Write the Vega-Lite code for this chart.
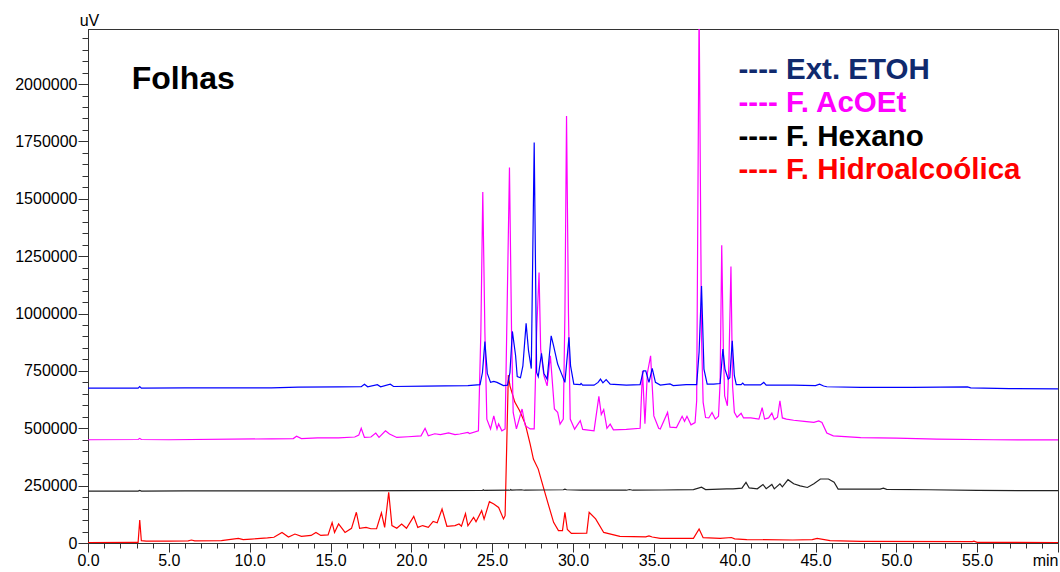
{
  "$schema": "https://vega.github.io/schema/vega-lite/v6.json",
  "width": 970,
  "height": 514,
  "autosize": "none",
  "padding": {"left": 88, "top": 29, "right": 2, "bottom": 29},
  "background": "white",
  "config": {"view": {"stroke": "#333333", "strokeWidth": 1}, "font": "Liberation Sans"},
  "resolve": {"axis": {"x": "independent", "y": "independent"}},
  "datasets": {
    "traces": [
      {"series": "F. Hidroalcoólica", "t": 0, "v": 2000},
      {"series": "F. Hidroalcoólica", "t": 2.8, "v": 3000},
      {"series": "F. Hidroalcoólica", "t": 3.1, "v": 3000},
      {"series": "F. Hidroalcoólica", "t": 3.2, "v": 100000},
      {"series": "F. Hidroalcoólica", "t": 3.3, "v": 10000},
      {"series": "F. Hidroalcoólica", "t": 3.6, "v": 8000},
      {"series": "F. Hidroalcoólica", "t": 4.95, "v": 8000},
      {"series": "F. Hidroalcoólica", "t": 6.2, "v": 9000},
      {"series": "F. Hidroalcoólica", "t": 6.4, "v": 13000},
      {"series": "F. Hidroalcoólica", "t": 6.6, "v": 9000},
      {"series": "F. Hidroalcoólica", "t": 8.25, "v": 10000},
      {"series": "F. Hidroalcoólica", "t": 9.3, "v": 20000},
      {"series": "F. Hidroalcoólica", "t": 9.6, "v": 15000},
      {"series": "F. Hidroalcoólica", "t": 10.1, "v": 17000},
      {"series": "F. Hidroalcoólica", "t": 11.1, "v": 22000},
      {"series": "F. Hidroalcoólica", "t": 11.5, "v": 25000},
      {"series": "F. Hidroalcoólica", "t": 12.0, "v": 46000},
      {"series": "F. Hidroalcoólica", "t": 12.4, "v": 26000},
      {"series": "F. Hidroalcoólica", "t": 12.8, "v": 39000},
      {"series": "F. Hidroalcoólica", "t": 13.2, "v": 29000},
      {"series": "F. Hidroalcoólica", "t": 13.8, "v": 33000},
      {"series": "F. Hidroalcoólica", "t": 14.1, "v": 46000},
      {"series": "F. Hidroalcoólica", "t": 14.4, "v": 33000},
      {"series": "F. Hidroalcoólica", "t": 14.85, "v": 35000},
      {"series": "F. Hidroalcoólica", "t": 15.1, "v": 89000},
      {"series": "F. Hidroalcoólica", "t": 15.25, "v": 46000},
      {"series": "F. Hidroalcoólica", "t": 15.5, "v": 83000},
      {"series": "F. Hidroalcoólica", "t": 15.9, "v": 46000},
      {"series": "F. Hidroalcoólica", "t": 16.3, "v": 64000},
      {"series": "F. Hidroalcoólica", "t": 16.6, "v": 134000},
      {"series": "F. Hidroalcoólica", "t": 16.8, "v": 64000},
      {"series": "F. Hidroalcoólica", "t": 17.2, "v": 68000},
      {"series": "F. Hidroalcoólica", "t": 17.5, "v": 62000},
      {"series": "F. Hidroalcoólica", "t": 17.85, "v": 62000},
      {"series": "F. Hidroalcoólica", "t": 18.15, "v": 131000},
      {"series": "F. Hidroalcoólica", "t": 18.35, "v": 68000},
      {"series": "F. Hidroalcoólica", "t": 18.6, "v": 221000},
      {"series": "F. Hidroalcoólica", "t": 18.8, "v": 76000},
      {"series": "F. Hidroalcoólica", "t": 19.1, "v": 64000},
      {"series": "F. Hidroalcoólica", "t": 19.4, "v": 83000},
      {"series": "F. Hidroalcoólica", "t": 19.7, "v": 64000},
      {"series": "F. Hidroalcoólica", "t": 20.15, "v": 116000},
      {"series": "F. Hidroalcoólica", "t": 20.4, "v": 68000},
      {"series": "F. Hidroalcoólica", "t": 20.7, "v": 76000},
      {"series": "F. Hidroalcoólica", "t": 21.05, "v": 68000},
      {"series": "F. Hidroalcoólica", "t": 21.35, "v": 94000},
      {"series": "F. Hidroalcoólica", "t": 21.6, "v": 88000},
      {"series": "F. Hidroalcoólica", "t": 21.9, "v": 148000},
      {"series": "F. Hidroalcoólica", "t": 22.2, "v": 73000},
      {"series": "F. Hidroalcoólica", "t": 22.7, "v": 76000},
      {"series": "F. Hidroalcoólica", "t": 22.95, "v": 83000},
      {"series": "F. Hidroalcoólica", "t": 23.1, "v": 73000},
      {"series": "F. Hidroalcoólica", "t": 23.35, "v": 128000},
      {"series": "F. Hidroalcoólica", "t": 23.5, "v": 75000},
      {"series": "F. Hidroalcoólica", "t": 23.85, "v": 112000},
      {"series": "F. Hidroalcoólica", "t": 24.0, "v": 93000},
      {"series": "F. Hidroalcoólica", "t": 24.35, "v": 141000},
      {"series": "F. Hidroalcoólica", "t": 24.5, "v": 104000},
      {"series": "F. Hidroalcoólica", "t": 24.83, "v": 180000},
      {"series": "F. Hidroalcoólica", "t": 25.1, "v": 170000},
      {"series": "F. Hidroalcoólica", "t": 25.4, "v": 155000},
      {"series": "F. Hidroalcoólica", "t": 25.7, "v": 105000},
      {"series": "F. Hidroalcoólica", "t": 25.8, "v": 119000},
      {"series": "F. Hidroalcoólica", "t": 25.9, "v": 424000},
      {"series": "F. Hidroalcoólica", "t": 26.0, "v": 732000},
      {"series": "F. Hidroalcoólica", "t": 26.1, "v": 685000},
      {"series": "F. Hidroalcoólica", "t": 26.4, "v": 614000},
      {"series": "F. Hidroalcoólica", "t": 26.7, "v": 576000},
      {"series": "F. Hidroalcoólica", "t": 27.05, "v": 518000},
      {"series": "F. Hidroalcoólica", "t": 27.35, "v": 431000},
      {"series": "F. Hidroalcoólica", "t": 27.55, "v": 366000},
      {"series": "F. Hidroalcoólica", "t": 27.85, "v": 322000},
      {"series": "F. Hidroalcoólica", "t": 28.2, "v": 235000},
      {"series": "F. Hidroalcoólica", "t": 28.5, "v": 162000},
      {"series": "F. Hidroalcoólica", "t": 28.8, "v": 90000},
      {"series": "F. Hidroalcoólica", "t": 29.1, "v": 54000},
      {"series": "F. Hidroalcoólica", "t": 29.35, "v": 54000},
      {"series": "F. Hidroalcoólica", "t": 29.5, "v": 134000},
      {"series": "F. Hidroalcoólica", "t": 29.65, "v": 59000},
      {"series": "F. Hidroalcoólica", "t": 29.9, "v": 42000},
      {"series": "F. Hidroalcoólica", "t": 30.85, "v": 43000},
      {"series": "F. Hidroalcoólica", "t": 31.0, "v": 134000},
      {"series": "F. Hidroalcoólica", "t": 31.4, "v": 105000},
      {"series": "F. Hidroalcoólica", "t": 31.9, "v": 46000},
      {"series": "F. Hidroalcoólica", "t": 32.9, "v": 29000},
      {"series": "F. Hidroalcoólica", "t": 34.5, "v": 27000},
      {"series": "F. Hidroalcoólica", "t": 34.7, "v": 31000},
      {"series": "F. Hidroalcoólica", "t": 34.9, "v": 26000},
      {"series": "F. Hidroalcoólica", "t": 35.4, "v": 20000},
      {"series": "F. Hidroalcoólica", "t": 37.45, "v": 20000},
      {"series": "F. Hidroalcoólica", "t": 37.8, "v": 61000},
      {"series": "F. Hidroalcoólica", "t": 38.05, "v": 23000},
      {"series": "F. Hidroalcoólica", "t": 39.1, "v": 20000},
      {"series": "F. Hidroalcoólica", "t": 39.8, "v": 24000},
      {"series": "F. Hidroalcoólica", "t": 40.0, "v": 18000},
      {"series": "F. Hidroalcoólica", "t": 40.75, "v": 15000},
      {"series": "F. Hidroalcoólica", "t": 43.6, "v": 13000},
      {"series": "F. Hidroalcoólica", "t": 44.8, "v": 15000},
      {"series": "F. Hidroalcoólica", "t": 45.1, "v": 20000},
      {"series": "F. Hidroalcoólica", "t": 45.9, "v": 10000},
      {"series": "F. Hidroalcoólica", "t": 47.8, "v": 7000},
      {"series": "F. Hidroalcoólica", "t": 54.7, "v": 6000},
      {"series": "F. Hidroalcoólica", "t": 54.8, "v": 8000},
      {"series": "F. Hidroalcoólica", "t": 55.0, "v": 3000},
      {"series": "F. Hidroalcoólica", "t": 60, "v": 2000},

      {"series": "F. Hexano", "t": 0, "v": 226000},
      {"series": "F. Hexano", "t": 3.1, "v": 226000},
      {"series": "F. Hexano", "t": 3.2, "v": 229000},
      {"series": "F. Hexano", "t": 3.3, "v": 226000},
      {"series": "F. Hexano", "t": 6, "v": 227000},
      {"series": "F. Hexano", "t": 15, "v": 227000},
      {"series": "F. Hexano", "t": 20, "v": 228000},
      {"series": "F. Hexano", "t": 24.4, "v": 229000},
      {"series": "F. Hexano", "t": 24.45, "v": 232000},
      {"series": "F. Hexano", "t": 24.5, "v": 229000},
      {"series": "F. Hexano", "t": 26.1, "v": 230000},
      {"series": "F. Hexano", "t": 26.15, "v": 233000},
      {"series": "F. Hexano", "t": 26.2, "v": 230000},
      {"series": "F. Hexano", "t": 26.8, "v": 232000},
      {"series": "F. Hexano", "t": 27.0, "v": 230000},
      {"series": "F. Hexano", "t": 28.0, "v": 231000},
      {"series": "F. Hexano", "t": 29.4, "v": 232000},
      {"series": "F. Hexano", "t": 29.5, "v": 235000},
      {"series": "F. Hexano", "t": 29.6, "v": 232000},
      {"series": "F. Hexano", "t": 30.5, "v": 230000},
      {"series": "F. Hexano", "t": 33.3, "v": 230000},
      {"series": "F. Hexano", "t": 33.5, "v": 233000},
      {"series": "F. Hexano", "t": 33.7, "v": 230000},
      {"series": "F. Hexano", "t": 35.5, "v": 231000},
      {"series": "F. Hexano", "t": 37.45, "v": 233000},
      {"series": "F. Hexano", "t": 37.95, "v": 243000},
      {"series": "F. Hexano", "t": 38.2, "v": 233000},
      {"series": "F. Hexano", "t": 39.5, "v": 236000},
      {"series": "F. Hexano", "t": 39.9, "v": 236000},
      {"series": "F. Hexano", "t": 40.45, "v": 239000},
      {"series": "F. Hexano", "t": 40.7, "v": 264000},
      {"series": "F. Hexano", "t": 40.9, "v": 240000},
      {"series": "F. Hexano", "t": 41.4, "v": 236000},
      {"series": "F. Hexano", "t": 41.75, "v": 255000},
      {"series": "F. Hexano", "t": 41.95, "v": 237000},
      {"series": "F. Hexano", "t": 42.3, "v": 255000},
      {"series": "F. Hexano", "t": 42.45, "v": 236000},
      {"series": "F. Hexano", "t": 42.8, "v": 258000},
      {"series": "F. Hexano", "t": 42.95, "v": 245000},
      {"series": "F. Hexano", "t": 43.3, "v": 276000},
      {"series": "F. Hexano", "t": 43.65, "v": 258000},
      {"series": "F. Hexano", "t": 44.05, "v": 249000},
      {"series": "F. Hexano", "t": 44.5, "v": 242000},
      {"series": "F. Hexano", "t": 44.9, "v": 258000},
      {"series": "F. Hexano", "t": 45.3, "v": 279000},
      {"series": "F. Hexano", "t": 45.8, "v": 279000},
      {"series": "F. Hexano", "t": 46.15, "v": 265000},
      {"series": "F. Hexano", "t": 46.4, "v": 235000},
      {"series": "F. Hexano", "t": 49.0, "v": 235000},
      {"series": "F. Hexano", "t": 49.2, "v": 239000},
      {"series": "F. Hexano", "t": 49.4, "v": 234000},
      {"series": "F. Hexano", "t": 52, "v": 232000},
      {"series": "F. Hexano", "t": 55, "v": 229000},
      {"series": "F. Hexano", "t": 60, "v": 228000},

      {"series": "F. AcOEt", "t": 0, "v": 450000},
      {"series": "F. AcOEt", "t": 3.1, "v": 451000},
      {"series": "F. AcOEt", "t": 3.2, "v": 456000},
      {"series": "F. AcOEt", "t": 3.3, "v": 451000},
      {"series": "F. AcOEt", "t": 5, "v": 450000},
      {"series": "F. AcOEt", "t": 11.35, "v": 454000},
      {"series": "F. AcOEt", "t": 12.7, "v": 455000},
      {"series": "F. AcOEt", "t": 12.9, "v": 465000},
      {"series": "F. AcOEt", "t": 13.2, "v": 455000},
      {"series": "F. AcOEt", "t": 14.2, "v": 458000},
      {"series": "F. AcOEt", "t": 15.5, "v": 458000},
      {"series": "F. AcOEt", "t": 16.5, "v": 462000},
      {"series": "F. AcOEt", "t": 16.75, "v": 470000},
      {"series": "F. AcOEt", "t": 16.9, "v": 500000},
      {"series": "F. AcOEt", "t": 17.1, "v": 460000},
      {"series": "F. AcOEt", "t": 17.5, "v": 462000},
      {"series": "F. AcOEt", "t": 17.8, "v": 479000},
      {"series": "F. AcOEt", "t": 18.0, "v": 460000},
      {"series": "F. AcOEt", "t": 18.4, "v": 489000},
      {"series": "F. AcOEt", "t": 18.65, "v": 475000},
      {"series": "F. AcOEt", "t": 19.1, "v": 460000},
      {"series": "F. AcOEt", "t": 19.8, "v": 463000},
      {"series": "F. AcOEt", "t": 20.6, "v": 467000},
      {"series": "F. AcOEt", "t": 20.85, "v": 500000},
      {"series": "F. AcOEt", "t": 21.05, "v": 467000},
      {"series": "F. AcOEt", "t": 21.45, "v": 476000},
      {"series": "F. AcOEt", "t": 21.8, "v": 472000},
      {"series": "F. AcOEt", "t": 22.3, "v": 480000},
      {"series": "F. AcOEt", "t": 22.7, "v": 472000},
      {"series": "F. AcOEt", "t": 23.0, "v": 475000},
      {"series": "F. AcOEt", "t": 23.5, "v": 482000},
      {"series": "F. AcOEt", "t": 23.6, "v": 477000},
      {"series": "F. AcOEt", "t": 24.15, "v": 489000},
      {"series": "F. AcOEt", "t": 24.3, "v": 919000},
      {"series": "F. AcOEt", "t": 24.42, "v": 1530000},
      {"series": "F. AcOEt", "t": 24.55, "v": 919000},
      {"series": "F. AcOEt", "t": 24.67, "v": 540000},
      {"series": "F. AcOEt", "t": 24.9, "v": 497000},
      {"series": "F. AcOEt", "t": 25.1, "v": 554000},
      {"series": "F. AcOEt", "t": 25.3, "v": 497000},
      {"series": "F. AcOEt", "t": 25.4, "v": 519000},
      {"series": "F. AcOEt", "t": 25.6, "v": 489000},
      {"series": "F. AcOEt", "t": 25.8, "v": 497000},
      {"series": "F. AcOEt", "t": 25.9, "v": 919000},
      {"series": "F. AcOEt", "t": 26.07, "v": 1636000},
      {"series": "F. AcOEt", "t": 26.2, "v": 919000},
      {"series": "F. AcOEt", "t": 26.3, "v": 569000},
      {"series": "F. AcOEt", "t": 26.5, "v": 497000},
      {"series": "F. AcOEt", "t": 26.85, "v": 584000},
      {"series": "F. AcOEt", "t": 27.05, "v": 511000},
      {"series": "F. AcOEt", "t": 27.35, "v": 497000},
      {"series": "F. AcOEt", "t": 27.6, "v": 497000},
      {"series": "F. AcOEt", "t": 27.75, "v": 919000},
      {"series": "F. AcOEt", "t": 27.9, "v": 1179000},
      {"series": "F. AcOEt", "t": 28.0, "v": 845000},
      {"series": "F. AcOEt", "t": 28.2, "v": 729000},
      {"series": "F. AcOEt", "t": 28.4, "v": 685000},
      {"series": "F. AcOEt", "t": 28.6, "v": 816000},
      {"series": "F. AcOEt", "t": 28.85, "v": 584000},
      {"series": "F. AcOEt", "t": 29.05, "v": 570000},
      {"series": "F. AcOEt", "t": 29.2, "v": 518000},
      {"series": "F. AcOEt", "t": 29.4, "v": 540000},
      {"series": "F. AcOEt", "t": 29.5, "v": 1000000},
      {"series": "F. AcOEt", "t": 29.6, "v": 1861000},
      {"series": "F. AcOEt", "t": 29.72, "v": 1000000},
      {"series": "F. AcOEt", "t": 29.83, "v": 540000},
      {"series": "F. AcOEt", "t": 30.1, "v": 496000},
      {"series": "F. AcOEt", "t": 30.45, "v": 533000},
      {"series": "F. AcOEt", "t": 30.6, "v": 495000},
      {"series": "F. AcOEt", "t": 31.3, "v": 489000},
      {"series": "F. AcOEt", "t": 31.6, "v": 639000},
      {"series": "F. AcOEt", "t": 31.75, "v": 560000},
      {"series": "F. AcOEt", "t": 31.9, "v": 581000},
      {"series": "F. AcOEt", "t": 32.1, "v": 500000},
      {"series": "F. AcOEt", "t": 32.3, "v": 518000},
      {"series": "F. AcOEt", "t": 32.5, "v": 493000},
      {"series": "F. AcOEt", "t": 33.3, "v": 495000},
      {"series": "F. AcOEt", "t": 34.15, "v": 500000},
      {"series": "F. AcOEt", "t": 34.3, "v": 750000},
      {"series": "F. AcOEt", "t": 34.45, "v": 520000},
      {"series": "F. AcOEt", "t": 34.6, "v": 740000},
      {"series": "F. AcOEt", "t": 34.8, "v": 816000},
      {"series": "F. AcOEt", "t": 35.0, "v": 554000},
      {"series": "F. AcOEt", "t": 35.3, "v": 500000},
      {"series": "F. AcOEt", "t": 35.4, "v": 497000},
      {"series": "F. AcOEt", "t": 35.85, "v": 569000},
      {"series": "F. AcOEt", "t": 36.0, "v": 505000},
      {"series": "F. AcOEt", "t": 36.4, "v": 503000},
      {"series": "F. AcOEt", "t": 36.75, "v": 552000},
      {"series": "F. AcOEt", "t": 36.9, "v": 530000},
      {"series": "F. AcOEt", "t": 37.05, "v": 552000},
      {"series": "F. AcOEt", "t": 37.3, "v": 515000},
      {"series": "F. AcOEt", "t": 37.55, "v": 525000},
      {"series": "F. AcOEt", "t": 37.65, "v": 620000},
      {"series": "F. AcOEt", "t": 37.8, "v": 2350000},
      {"series": "F. AcOEt", "t": 37.95, "v": 900000},
      {"series": "F. AcOEt", "t": 38.05, "v": 613000},
      {"series": "F. AcOEt", "t": 38.2, "v": 547000},
      {"series": "F. AcOEt", "t": 38.4, "v": 545000},
      {"series": "F. AcOEt", "t": 38.6, "v": 569000},
      {"series": "F. AcOEt", "t": 38.8, "v": 540000},
      {"series": "F. AcOEt", "t": 39.0, "v": 553000},
      {"series": "F. AcOEt", "t": 39.1, "v": 700000},
      {"series": "F. AcOEt", "t": 39.2, "v": 1298000},
      {"series": "F. AcOEt", "t": 39.3, "v": 850000},
      {"series": "F. AcOEt", "t": 39.38, "v": 641000},
      {"series": "F. AcOEt", "t": 39.55, "v": 598000},
      {"series": "F. AcOEt", "t": 39.65, "v": 800000},
      {"series": "F. AcOEt", "t": 39.77, "v": 1205000},
      {"series": "F. AcOEt", "t": 39.87, "v": 685000},
      {"series": "F. AcOEt", "t": 39.98, "v": 570000},
      {"series": "F. AcOEt", "t": 40.15, "v": 548000},
      {"series": "F. AcOEt", "t": 40.4, "v": 565000},
      {"series": "F. AcOEt", "t": 40.55, "v": 545000},
      {"series": "F. AcOEt", "t": 41.0, "v": 545000},
      {"series": "F. AcOEt", "t": 41.5, "v": 540000},
      {"series": "F. AcOEt", "t": 41.7, "v": 590000},
      {"series": "F. AcOEt", "t": 41.85, "v": 540000},
      {"series": "F. AcOEt", "t": 42.1, "v": 545000},
      {"series": "F. AcOEt", "t": 42.3, "v": 566000},
      {"series": "F. AcOEt", "t": 42.45, "v": 538000},
      {"series": "F. AcOEt", "t": 42.65, "v": 548000},
      {"series": "F. AcOEt", "t": 42.8, "v": 620000},
      {"series": "F. AcOEt", "t": 42.95, "v": 545000},
      {"series": "F. AcOEt", "t": 43.2, "v": 540000},
      {"series": "F. AcOEt", "t": 43.65, "v": 535000},
      {"series": "F. AcOEt", "t": 44.3, "v": 530000},
      {"series": "F. AcOEt", "t": 44.9, "v": 526000},
      {"series": "F. AcOEt", "t": 45.2, "v": 532000},
      {"series": "F. AcOEt", "t": 45.4, "v": 525000},
      {"series": "F. AcOEt", "t": 45.7, "v": 479000},
      {"series": "F. AcOEt", "t": 46.1, "v": 467000},
      {"series": "F. AcOEt", "t": 47.8, "v": 459000},
      {"series": "F. AcOEt", "t": 50, "v": 457000},
      {"series": "F. AcOEt", "t": 52.5, "v": 453000},
      {"series": "F. AcOEt", "t": 56, "v": 450000},
      {"series": "F. AcOEt", "t": 60, "v": 449000},

      {"series": "Ext. ETOH", "t": 0, "v": 675000},
      {"series": "Ext. ETOH", "t": 3.1, "v": 675000},
      {"series": "Ext. ETOH", "t": 3.2, "v": 682000},
      {"series": "Ext. ETOH", "t": 3.3, "v": 675000},
      {"series": "Ext. ETOH", "t": 6, "v": 676000},
      {"series": "Ext. ETOH", "t": 11.35, "v": 676000},
      {"series": "Ext. ETOH", "t": 13.0, "v": 679000},
      {"series": "Ext. ETOH", "t": 15.5, "v": 680000},
      {"series": "Ext. ETOH", "t": 16.9, "v": 681000},
      {"series": "Ext. ETOH", "t": 17.1, "v": 692000},
      {"series": "Ext. ETOH", "t": 17.3, "v": 681000},
      {"series": "Ext. ETOH", "t": 17.9, "v": 690000},
      {"series": "Ext. ETOH", "t": 18.1, "v": 681000},
      {"series": "Ext. ETOH", "t": 18.7, "v": 692000},
      {"series": "Ext. ETOH", "t": 18.9, "v": 682000},
      {"series": "Ext. ETOH", "t": 20.9, "v": 684000},
      {"series": "Ext. ETOH", "t": 22.1, "v": 685000},
      {"series": "Ext. ETOH", "t": 23.5, "v": 686000},
      {"series": "Ext. ETOH", "t": 24.25, "v": 690000},
      {"series": "Ext. ETOH", "t": 24.4, "v": 743000},
      {"series": "Ext. ETOH", "t": 24.55, "v": 878000},
      {"series": "Ext. ETOH", "t": 24.7, "v": 739000},
      {"series": "Ext. ETOH", "t": 24.9, "v": 700000},
      {"series": "Ext. ETOH", "t": 25.1, "v": 704000},
      {"series": "Ext. ETOH", "t": 25.3, "v": 700000},
      {"series": "Ext. ETOH", "t": 25.7, "v": 686000},
      {"series": "Ext. ETOH", "t": 25.95, "v": 688000},
      {"series": "Ext. ETOH", "t": 26.1, "v": 743000},
      {"series": "Ext. ETOH", "t": 26.25, "v": 922000},
      {"series": "Ext. ETOH", "t": 26.45, "v": 816000},
      {"series": "Ext. ETOH", "t": 26.55, "v": 725000},
      {"series": "Ext. ETOH", "t": 26.75, "v": 720000},
      {"series": "Ext. ETOH", "t": 26.9, "v": 772000},
      {"series": "Ext. ETOH", "t": 27.1, "v": 957000},
      {"series": "Ext. ETOH", "t": 27.25, "v": 837000},
      {"series": "Ext. ETOH", "t": 27.42, "v": 760000},
      {"series": "Ext. ETOH", "t": 27.6, "v": 1745000},
      {"series": "Ext. ETOH", "t": 27.75, "v": 743000},
      {"series": "Ext. ETOH", "t": 27.85, "v": 725000},
      {"series": "Ext. ETOH", "t": 28.05, "v": 827000},
      {"series": "Ext. ETOH", "t": 28.2, "v": 739000},
      {"series": "Ext. ETOH", "t": 28.4, "v": 714000},
      {"series": "Ext. ETOH", "t": 28.65, "v": 903000},
      {"series": "Ext. ETOH", "t": 28.8, "v": 859000},
      {"series": "Ext. ETOH", "t": 29.05, "v": 780000},
      {"series": "Ext. ETOH", "t": 29.3, "v": 736000},
      {"series": "Ext. ETOH", "t": 29.5, "v": 700000},
      {"series": "Ext. ETOH", "t": 29.75, "v": 896000},
      {"series": "Ext. ETOH", "t": 29.85, "v": 772000},
      {"series": "Ext. ETOH", "t": 30.05, "v": 692000},
      {"series": "Ext. ETOH", "t": 30.45, "v": 690000},
      {"series": "Ext. ETOH", "t": 30.5, "v": 695000},
      {"series": "Ext. ETOH", "t": 30.6, "v": 688000},
      {"series": "Ext. ETOH", "t": 31.3, "v": 688000},
      {"series": "Ext. ETOH", "t": 31.55, "v": 700000},
      {"series": "Ext. ETOH", "t": 31.7, "v": 714000},
      {"series": "Ext. ETOH", "t": 31.85, "v": 698000},
      {"series": "Ext. ETOH", "t": 32.05, "v": 712000},
      {"series": "Ext. ETOH", "t": 32.3, "v": 692000},
      {"series": "Ext. ETOH", "t": 33.3, "v": 688000},
      {"series": "Ext. ETOH", "t": 34.15, "v": 690000},
      {"series": "Ext. ETOH", "t": 34.35, "v": 750000},
      {"series": "Ext. ETOH", "t": 34.5, "v": 750000},
      {"series": "Ext. ETOH", "t": 34.7, "v": 700000},
      {"series": "Ext. ETOH", "t": 34.9, "v": 761000},
      {"series": "Ext. ETOH", "t": 35.1, "v": 700000},
      {"series": "Ext. ETOH", "t": 35.4, "v": 688000},
      {"series": "Ext. ETOH", "t": 36.0, "v": 693000},
      {"series": "Ext. ETOH", "t": 36.2, "v": 686000},
      {"series": "Ext. ETOH", "t": 37.0, "v": 690000},
      {"series": "Ext. ETOH", "t": 37.65, "v": 690000},
      {"series": "Ext. ETOH", "t": 37.8, "v": 832000},
      {"series": "Ext. ETOH", "t": 37.95, "v": 1120000},
      {"series": "Ext. ETOH", "t": 38.1, "v": 758000},
      {"series": "Ext. ETOH", "t": 38.3, "v": 692000},
      {"series": "Ext. ETOH", "t": 38.7, "v": 692000},
      {"series": "Ext. ETOH", "t": 39.1, "v": 695000},
      {"series": "Ext. ETOH", "t": 39.27, "v": 845000},
      {"series": "Ext. ETOH", "t": 39.4, "v": 758000},
      {"series": "Ext. ETOH", "t": 39.6, "v": 714000},
      {"series": "Ext. ETOH", "t": 39.7, "v": 720000},
      {"series": "Ext. ETOH", "t": 39.85, "v": 881000},
      {"series": "Ext. ETOH", "t": 39.98, "v": 729000},
      {"series": "Ext. ETOH", "t": 40.1, "v": 690000},
      {"series": "Ext. ETOH", "t": 40.4, "v": 690000},
      {"series": "Ext. ETOH", "t": 40.5, "v": 697000},
      {"series": "Ext. ETOH", "t": 40.6, "v": 689000},
      {"series": "Ext. ETOH", "t": 41.6, "v": 689000},
      {"series": "Ext. ETOH", "t": 41.8, "v": 700000},
      {"series": "Ext. ETOH", "t": 41.95, "v": 688000},
      {"series": "Ext. ETOH", "t": 43.65, "v": 688000},
      {"series": "Ext. ETOH", "t": 45.0, "v": 686000},
      {"series": "Ext. ETOH", "t": 45.25, "v": 692000},
      {"series": "Ext. ETOH", "t": 45.5, "v": 684000},
      {"series": "Ext. ETOH", "t": 45.7, "v": 681000},
      {"series": "Ext. ETOH", "t": 47.8, "v": 678000},
      {"series": "Ext. ETOH", "t": 51, "v": 678000},
      {"series": "Ext. ETOH", "t": 54.4, "v": 680000},
      {"series": "Ext. ETOH", "t": 54.6, "v": 676000},
      {"series": "Ext. ETOH", "t": 57, "v": 673000},
      {"series": "Ext. ETOH", "t": 60, "v": 672000}
    ],
    "labels": [
      {"label": "Folhas"},
      {"label": "---- Ext. ETOH"},
      {"label": "---- F. AcOEt"},
      {"label": "---- F. Hexano"},
      {"label": "---- F. Hidroalcoólica"}
    ]
  },
  "layer": [
    {
      "data": {"name": "traces"},
      "mark": {"type": "line", "strokeWidth": 1.2, "clip": true},
      "encoding": {
        "x": {
          "field": "t", "type": "quantitative",
          "scale": {"domain": [0, 60], "nice": false, "zero": false},
          "axis": {
            "orient": "bottom",
            "values": [0,5,10,15,20,25,30,35,40,45,50,55,60],
            "labelExpr": "datum.value === 60 ? 'min' : format(datum.value, '.1f')",
            "labelAlign": {"condition": {"test": "datum.value === 60", "value": "right"}, "value": "center"},
            "tickSize": 9,
            "labelFontSize": 16, "labelColor": "#000000", "labelPadding": 0,
            "labelOverlap": false, "labelBound": false, "labelFlush": false,
            "grid": false, "title": null,
            "domainColor": "#333333", "tickColor": "#333333"
          }
        },
        "y": {
          "field": "v", "type": "quantitative",
          "scale": {"domain": [0, 2240000], "nice": false, "zero": true},
          "axis": {
            "orient": "left",
            "values": [0,250000,500000,750000,1000000,1250000,1500000,1750000,2000000],
            "format": "d",
            "tickSize": 10,
            "labelFontSize": 16, "labelColor": "#000000", "labelPadding": 1,
            "labelOverlap": false, "labelBound": false, "labelFlush": false,
            "grid": false,
            "title": "uV", "titleAngle": 0, "titleX": 1, "titleY": -4,
            "titleAlign": "center", "titleBaseline": "alphabetic",
            "titleFontSize": 16, "titleFontWeight": "normal", "titleColor": "#000000",
            "domainColor": "#333333", "tickColor": "#333333"
          }
        },
        "color": {
          "field": "series", "type": "nominal",
          "scale": {
            "domain": ["Ext. ETOH", "F. AcOEt", "F. Hexano", "F. Hidroalcoólica"],
            "range": ["#0000ff", "#ff00ff", "#222222", "#ff0000"]
          },
          "legend": null
        }
      }
    },
    {
      "data": {"name": "labels"},
      "transform": [{"filter": "datum.label === 'Folhas'"}],
      "mark": {"type": "text", "align": "left", "baseline": "alphabetic", "fontSize": 32, "fontWeight": "bold", "color": "#000000", "font": "Liberation Sans"},
      "encoding": {
        "x": {"datum": 2.7, "axis": {
          "orient": "bottom",
          "values": [0,1,2,3,4,5,6,7,8,9,10,11,12,13,14,15,16,17,18,19,20,21,22,23,24,25,26,27,28,29,30,31,32,33,34,35,36,37,38,39,40,41,42,43,44,45,46,47,48,49,50,51,52,53,54,55,56,57,58,59,60],
          "labels": false, "tickSize": 5, "grid": false, "title": null,
          "domainColor": "#333333", "tickColor": "#333333"
        }},
        "y": {"datum": 1977000, "axis": {
          "orient": "left",
          "values": [0,50000,100000,150000,200000,250000,300000,350000,400000,450000,500000,550000,600000,650000,700000,750000,800000,850000,900000,950000,1000000,1050000,1100000,1150000,1200000,1250000,1300000,1350000,1400000,1450000,1500000,1550000,1600000,1650000,1700000,1750000,1800000,1850000,1900000,1950000,2000000,2050000,2100000,2150000,2200000],
          "labels": false, "tickSize": 6, "grid": false, "title": null,
          "domainColor": "#333333", "tickColor": "#333333"
        }},
        "text": {"field": "label"}
      }
    },
    {
      "data": {"name": "labels"},
      "transform": [{"filter": "datum.label === '---- Ext. ETOH'"}],
      "mark": {"type": "text", "align": "left", "baseline": "alphabetic", "fontSize": 29.5, "fontWeight": "bold", "color": "#102a6e", "font": "Liberation Sans"},
      "encoding": {"x": {"datum": 40.24, "axis": null}, "y": {"datum": 2023800, "axis": null}, "text": {"field": "label"}}
    },
    {
      "data": {"name": "labels"},
      "transform": [{"filter": "datum.label === '---- F. AcOEt'"}],
      "mark": {"type": "text", "align": "left", "baseline": "alphabetic", "fontSize": 29.5, "fontWeight": "bold", "color": "#ff00ff", "font": "Liberation Sans"},
      "encoding": {"x": {"datum": 40.24, "axis": null}, "y": {"datum": 1878300, "axis": null}, "text": {"field": "label"}}
    },
    {
      "data": {"name": "labels"},
      "transform": [{"filter": "datum.label === '---- F. Hexano'"}],
      "mark": {"type": "text", "align": "left", "baseline": "alphabetic", "fontSize": 29.5, "fontWeight": "bold", "color": "#000000", "font": "Liberation Sans"},
      "encoding": {"x": {"datum": 40.24, "axis": null}, "y": {"datum": 1730300, "axis": null}, "text": {"field": "label"}}
    },
    {
      "data": {"name": "labels"},
      "transform": [{"filter": "datum.label === '---- F. Hidroalcoólica'"}],
      "mark": {"type": "text", "align": "left", "baseline": "alphabetic", "fontSize": 29.5, "fontWeight": "bold", "color": "#ff0000", "font": "Liberation Sans"},
      "encoding": {"x": {"datum": 40.24, "axis": null}, "y": {"datum": 1588300, "axis": null}, "text": {"field": "label"}}
    }
  ]
}
